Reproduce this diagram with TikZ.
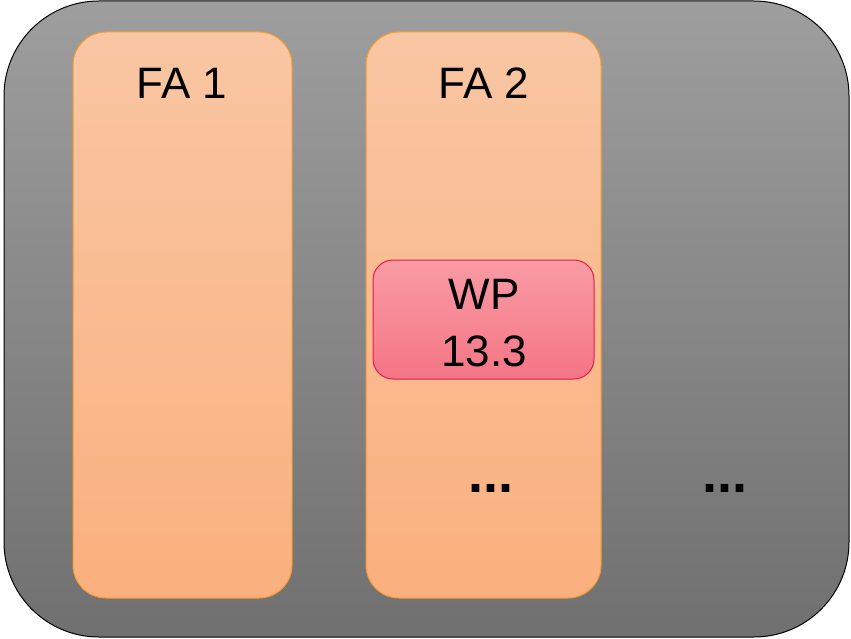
\documentclass[tikz,border=0pt]{standalone}
\usepackage{fontspec}
\setmainfont{Liberation Sans}
\definecolor{grayTop}{HTML}{9E9E9E}
\definecolor{grayBot}{HTML}{707070}
\definecolor{faTop}{HTML}{F9C6A3}
\definecolor{faBot}{HTML}{FAB07E}
\definecolor{faLine}{HTML}{F39A2E}
\definecolor{wpTop}{HTML}{F99BA4}
\definecolor{wpBot}{HTML}{F47585}
\definecolor{wpLine}{HTML}{E6194B}
\tikzset{
  frame/.style={draw=black, line width=1pt, rounded corners=95pt,
    top color=grayTop, bottom color=grayBot},
  fabox/.style={draw=faLine, line width=1pt, rounded corners=33pt,
    top color=faTop, bottom color=faBot},
  wpbox/.style={draw=wpLine, line width=1pt, rounded corners=20pt,
    top color=wpTop, bottom color=wpBot},
  lbl/.style={font=\fontsize{44}{57}\selectfont, text=black, inner sep=0pt, align=center},
  dots/.style={font=\fontsize{54}{60}\selectfont\bfseries, text=black, inner sep=0pt}
}
\begin{document}
\begin{tikzpicture}[x=1pt, y=-1pt]
  \useasboundingbox (0,0) rectangle (851,639);
  % outer container
  \path[frame] (4,1) rectangle (849,637);
  % functional areas
  \path[fabox] (73,32) rectangle (292,598);
  \path[fabox] (366,32) rectangle (601,598);
  % work package inside FA 2
  \path[wpbox] (373,260) rectangle (594,379);
  % labels
  \node[lbl] (fa1) at (182,83) {FA 1};
  \node[lbl] (fa2) at (484,83) {FA 2};
  \node[lbl] (wp) at (484,323) {WP\\13.3};
  \node[dots] (d1) at (491,488) {...};
  \node[dots] (d2) at (725,488) {...};
\end{tikzpicture}
\end{document}
